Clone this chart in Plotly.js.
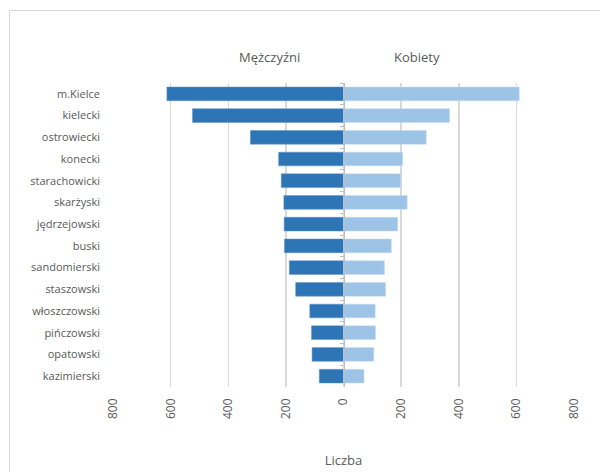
<!DOCTYPE html>
<html>
<head>
<meta charset="utf-8">
<script src="https://cdn.plot.ly/plotly-3.0.1.min.js"></script>
<style>
  html, body { margin: 0; padding: 0; background: #fff; }
  #wrap { position: relative; width: 600px; height: 472px; overflow: hidden; }
  #chart { width: 600px; height: 472px; }
  #frame { position: absolute; left: 9px; top: 10px; width: 620px; height: 500px;
           border: 1px solid #d9d9d9; box-sizing: border-box; pointer-events: none; }
</style>
</head>
<body>
<div id="wrap">
  <div id="chart"></div>
  <div id="frame"></div>
</div>
<script>
const categories = ["m.Kielce", "kielecki", "ostrowiecki", "konecki", "starachowicki", "skarżyski",
  "jędrzejowski", "buski", "sandomierski", "staszowski", "włoszczowski", "pińczowski", "opatowski", "kazimierski"];
const men   = [613, 524, 323, 225, 216, 207, 206, 205, 188, 166, 117, 111, 109, 84];
const women = [610, 368, 287, 205, 198, 221, 188, 166, 142, 146, 110, 111, 105, 71];
const tickValues = [-800, -600, -400, -200, 0, 200, 400, 600, 800];
const tickLabels = ["800", "600", "400", "200", "0", "200", "400", "600", "800"];
const seriesNames = ["Mężczyźni", "Kobiety"];
const xTitle = "Liczba";

const fontFam = "'Open Sans', Lato, sans-serif";
const grey = "#595959";

const traces = [
  {
    type: "bar", orientation: "h", name: seriesNames[0],
    y: categories, x: men.map(v => -v),
    marker: { color: "#2E75B6", line: { color: "#5b93c9", width: 0.5 } },
    yaxis: "y", hoverinfo: "skip"
  },
  {
    type: "bar", orientation: "h", name: seriesNames[1],
    y: categories, x: women,
    marker: { color: "#9DC3E6", line: { color: "#c3dbf0", width: 0.5 } },
    yaxis: "y2", hoverinfo: "skip"
  }
];

const layout = {
  width: 600, height: 472,
  margin: { l: 113, r: 26, t: 83, b: 85 },
  paper_bgcolor: "#fff", plot_bgcolor: "#fff",
  font: { family: fontFam, color: grey, size: 11 },
  showlegend: false,
  barmode: "overlay",
  bargap: 0.37,
  xaxis: {
    range: [-800, 800],
    tickvals: tickValues, ticktext: tickLabels,
    tickangle: -90,
    showgrid: true, gridcolor: "#d9d9d9", gridwidth: 1.5,
    zeroline: false, showline: false, ticks: "",
    ticklabelstandoff: 8,
    tickfont: { size: 12, color: grey, family: fontFam },
    title: { text: xTitle, font: { size: 13, color: grey, family: fontFam }, standoff: 37 }
  },
  yaxis: {
    type: "category", autorange: "reversed",
    showgrid: false, zeroline: false, showline: false, ticks: "",
    ticklabelstandoff: 12,
    tickfont: { size: 11, color: grey, family: fontFam }
  },
  yaxis2: {
    type: "category", autorange: "reversed",
    overlaying: "y", anchor: "free", position: 0.5, side: "left",
    showgrid: false, zeroline: false, showline: true, linecolor: "#bfbfbf", linewidth: 1,
    ticks: "outside", ticklen: 4, tickcolor: "#bfbfbf", tickson: "boundaries",
    showticklabels: false
  },
  annotations: [
    { text: seriesNames[0], xref: "paper", yref: "paper", x: 0.34, y: 1.085,
      xanchor: "center", yanchor: "middle", showarrow: false,
      font: { size: 13, color: grey, family: fontFam } },
    { text: seriesNames[1], xref: "paper", yref: "paper", x: 0.66, y: 1.085,
      xanchor: "center", yanchor: "middle", showarrow: false,
      font: { size: 13, color: grey, family: fontFam } }
  ]
};

Plotly.newPlot("chart", traces, layout, { staticPlot: true, displayModeBar: false });
</script>
</body>
</html>
